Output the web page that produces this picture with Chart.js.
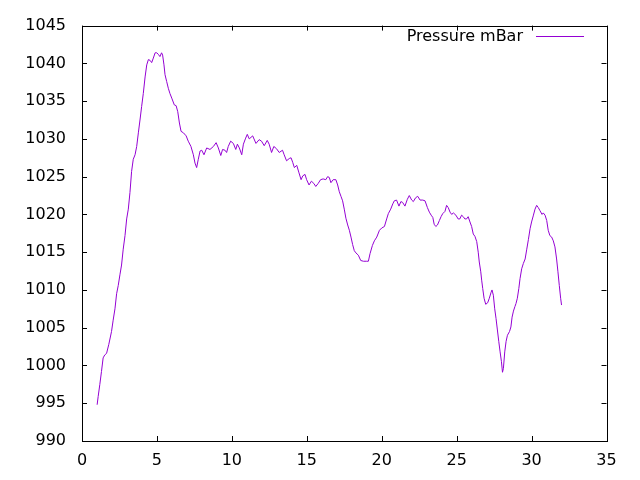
<!DOCTYPE html>
<html>
<head>
<meta charset="utf-8">
<title>Pressure mBar</title>
<script src="https://cdn.jsdelivr.net/npm/chart.js@4/dist/chart.umd.min.js"></script>
<style>
    html, body { margin: 0; padding: 0; background: #fff; }
    canvas { display: block; }
</style>
</head>
<body>
<canvas id="pressure-chart" width="640" height="480"></canvas>
<script>
// 读图得到的数据：日 / 气压 (mBar)
const days = [
    1.01, 1.08, 1.19, 1.30, 1.41, 1.52, 1.64, 1.79, 1.97, 2.08,
    2.20, 2.31, 2.42, 2.53, 2.64, 2.75, 2.87, 2.98, 3.09, 3.20,
    3.31, 3.42, 3.54, 3.65, 3.76, 3.87, 3.98, 4.09, 4.21, 4.32,
    4.43, 4.54, 4.65, 4.76, 4.88, 4.99, 5.09, 5.20, 5.31, 5.38,
    5.47, 5.54, 5.65, 5.76, 5.87, 5.99, 6.16, 6.28, 6.39, 6.50,
    6.61, 6.77, 6.95, 7.09, 7.27, 7.43, 7.54, 7.65, 7.76, 7.88,
    7.99, 8.14, 8.32, 8.54, 8.77, 8.95, 9.10, 9.26, 9.38, 9.54,
    9.65, 9.76, 9.92, 10.10, 10.26, 10.37, 10.50, 10.66, 10.77, 10.92,
    11.03, 11.16, 11.39, 11.61, 11.82, 11.98, 12.16, 12.36, 12.49, 12.65,
    12.80, 12.98, 13.16, 13.38, 13.49, 13.65, 13.83, 13.95, 14.06, 14.17,
    14.33, 14.48, 14.62, 14.73, 14.88, 14.99, 15.15, 15.31, 15.47, 15.60,
    15.76, 15.92, 16.09, 16.27, 16.39, 16.50, 16.61, 16.76, 16.94, 17.06,
    17.17, 17.28, 17.39, 17.50, 17.61, 17.73, 17.84, 17.95, 18.06, 18.17,
    18.28, 18.44, 18.60, 18.78, 19.00, 19.11, 19.22, 19.38, 19.51, 19.67,
    19.85, 20.00, 20.18, 20.33, 20.44, 20.60, 20.74, 20.84, 20.99, 21.15,
    21.28, 21.39, 21.55, 21.71, 21.84, 22.00, 22.11, 22.26, 22.40, 22.56,
    22.74, 22.89, 23.05, 23.18, 23.30, 23.41, 23.50, 23.61, 23.72, 23.85,
    23.96, 24.07, 24.22, 24.33, 24.44, 24.56, 24.67, 24.78, 24.95, 25.10,
    25.21, 25.33, 25.44, 25.55, 25.66, 25.77, 25.89, 26.00, 26.11, 26.22,
    26.34, 26.44, 26.51, 26.61, 26.67, 26.74, 26.83, 26.94, 27.07, 27.18,
    27.30, 27.36, 27.45, 27.54, 27.63, 27.72, 27.81, 27.90, 27.99, 28.06,
    28.12, 28.21, 28.30, 28.39, 28.53, 28.62, 28.70, 28.79, 28.89, 28.96,
    29.05, 29.15, 29.23, 29.34, 29.45, 29.57, 29.68, 29.79, 29.90, 30.00,
    30.11, 30.23, 30.34, 30.45, 30.56, 30.70, 30.78, 30.90, 31.01, 31.11,
    31.22, 31.34, 31.45, 31.56, 31.67, 31.76, 31.85, 31.94, 32.00
];

const pressure = [
    994.8, 995.9, 997.5, 999.2, 1001.0, 1001.4, 1001.6, 1002.8, 1004.5, 1006.0,
    1007.5, 1009.5, 1010.6, 1012.0, 1013.3, 1015.4, 1017.2, 1019.4, 1020.7, 1022.9,
    1025.7, 1027.3, 1027.9, 1029.0, 1030.8, 1032.5, 1034.3, 1036.0, 1038.2, 1039.8,
    1040.5, 1040.4, 1040.1, 1040.7, 1041.4, 1041.4, 1041.2, 1040.9, 1041.4, 1041.1,
    1039.8, 1038.5, 1037.6, 1036.7, 1036.0, 1035.4, 1034.5, 1034.4, 1033.6, 1032.1,
    1031.0, 1030.8, 1030.4, 1029.7, 1029.0, 1027.9, 1026.8, 1026.2, 1027.3, 1028.4,
    1028.5, 1027.9, 1028.8, 1028.6, 1029.0, 1029.5, 1028.8, 1027.8, 1028.6, 1028.5,
    1028.2, 1029.0, 1029.7, 1029.4, 1028.6, 1029.3, 1028.8, 1027.9, 1029.3, 1030.1,
    1030.6, 1030.0, 1030.4, 1029.4, 1029.9, 1029.7, 1029.1, 1029.8, 1029.3, 1028.2,
    1029.0, 1028.7, 1028.2, 1028.5, 1027.9, 1027.1, 1027.4, 1027.5, 1026.9, 1026.2,
    1026.5, 1025.5, 1024.6, 1025.1, 1025.3, 1024.6, 1023.9, 1024.4, 1024.1, 1023.7,
    1024.1, 1024.6, 1024.7, 1024.6, 1025.0, 1024.9, 1024.2, 1024.6, 1024.6, 1023.9,
    1023.0, 1022.4, 1021.8, 1020.7, 1019.5, 1018.6, 1017.9, 1017.0, 1016.0, 1015.2,
    1014.9, 1014.6, 1013.9, 1013.8, 1013.8, 1013.8, 1014.8, 1015.9, 1016.5, 1017.0,
    1017.9, 1018.2, 1018.4, 1019.4, 1020.1, 1020.7, 1021.4, 1021.8, 1021.9, 1021.1,
    1021.7, 1021.6, 1021.1, 1022.0, 1022.5, 1021.9, 1021.7, 1022.2, 1022.4, 1021.9,
    1021.9, 1021.8, 1020.9, 1020.3, 1019.9, 1019.6, 1018.7, 1018.4, 1018.6, 1019.2,
    1019.7, 1020.1, 1020.4, 1021.2, 1020.9, 1020.3, 1020.0, 1020.2, 1019.9, 1019.4,
    1019.4, 1019.9, 1019.7, 1019.4, 1019.4, 1019.7, 1019.0, 1018.4, 1017.4, 1017.1,
    1016.4, 1015.0, 1013.7, 1012.4, 1011.3, 1010.2, 1008.9, 1008.1, 1008.3, 1008.9,
    1009.7, 1010.0, 1009.3, 1007.5, 1006.2, 1004.7, 1003.2, 1001.8, 1000.5, 999.1,
    999.6, 1001.8, 1003.2, 1004.0, 1004.5, 1005.1, 1006.4, 1007.2, 1007.8, 1008.2,
    1008.9, 1010.2, 1011.5, 1012.8, 1013.5, 1014.1, 1015.4, 1016.7, 1018.1, 1019.0,
    1019.8, 1020.7, 1021.2, 1020.9, 1020.5, 1020.0, 1020.2, 1019.9, 1019.2, 1017.9,
    1017.2, 1017.0, 1016.5, 1015.7, 1014.1, 1012.4, 1010.6, 1008.9, 1008.0
];

const seriesLabel = 'Pressure mBar';
const xRange = [0, 35];
const yRange = [990, 1045];
const tickStep = 5;

const lineColor = '#9400d3';
const fontFamily = '"DejaVu Sans", sans-serif';
const fontSize = 16;

// gnuplot 风格：边框 + 四边向内的刻度
const framePlugin = {
    id: 'frame',
    afterDraw(chart) {
        const ctx = chart.ctx;
        const area = chart.chartArea;
        const xs = chart.scales.x;
        const ys = chart.scales.y;
        const len = 5;
        ctx.save();
        ctx.strokeStyle = '#000';
        ctx.lineWidth = 1;
        ctx.beginPath();
        xs.ticks.forEach(t => {
            const px = Math.round(xs.getPixelForValue(t.value)) + 0.5;
            ctx.moveTo(px, area.bottom);
            ctx.lineTo(px, area.bottom - len);
            ctx.moveTo(px, area.top);
            ctx.lineTo(px, area.top + len);
        });
        ys.ticks.forEach(t => {
            const py = Math.round(ys.getPixelForValue(t.value)) + 0.5;
            ctx.moveTo(area.left, py);
            ctx.lineTo(area.left + len, py);
            ctx.moveTo(area.right, py);
            ctx.lineTo(area.right - len, py);
        });
        ctx.stroke();
        ctx.strokeRect(Math.round(area.left) + 0.5, Math.round(area.top) + 0.5,
            Math.round(area.right - area.left), Math.round(area.bottom - area.top));
        ctx.restore();
    }
};

// 图例：文字在左，线段在右
const keyPlugin = {
    id: 'key',
    afterDraw(chart) {
        const ctx = chart.ctx;
        const ds = chart.data.datasets[0];
        const y = 36.5;
        ctx.save();
        ctx.font = fontSize + 'px ' + fontFamily;
        ctx.fillStyle = '#000';
        ctx.textAlign = 'right';
        ctx.textBaseline = 'middle';
        ctx.fillText(ds.label, 523, y);
        ctx.strokeStyle = ds.borderColor;
        ctx.lineWidth = 1;
        ctx.beginPath();
        ctx.moveTo(536, y);
        ctx.lineTo(584, y);
        ctx.stroke();
        ctx.restore();
    }
};

new Chart(document.getElementById('pressure-chart'), {
    type: 'line',
    data: {
        datasets: [{
            label: seriesLabel,
            data: days.map((d, i) => ({ x: d, y: pressure[i] })),
            borderColor: lineColor,
            borderWidth: 1,
            pointRadius: 0,
            tension: 0,
            fill: false
        }]
    },
    options: {
        responsive: false,
        animation: false,
        devicePixelRatio: 1,
        layout: { padding: { top: 22, right: 33.5, left: 0, bottom: 0 } },
        plugins: {
            legend: { display: false },
            tooltip: { enabled: false }
        },
        scales: {
            x: {
                type: 'linear',
                min: xRange[0],
                max: xRange[1],
                grid: { display: false, drawTicks: false, tickLength: 0 },
                border: { display: false },
                ticks: {
                    stepSize: tickStep,
                    padding: 10,
                    maxRotation: 0,
                    color: '#000',
                    font: { family: fontFamily, size: fontSize },
                    callback: (v) => String(v)
                },
                afterFit: (s) => { s.height = 39; }
            },
            y: {
                min: yRange[0],
                max: yRange[1],
                grid: { display: false, drawTicks: false, tickLength: 0 },
                border: { display: false },
                ticks: {
                    stepSize: tickStep,
                    padding: 16,
                    color: '#000',
                    font: { family: fontFamily, size: fontSize },
                    callback: (v) => String(v)
                },
                afterFit: (s) => { s.width = 82; }
            }
        }
    },
    plugins: [framePlugin, keyPlugin]
});
</script>
</body>
</html>
